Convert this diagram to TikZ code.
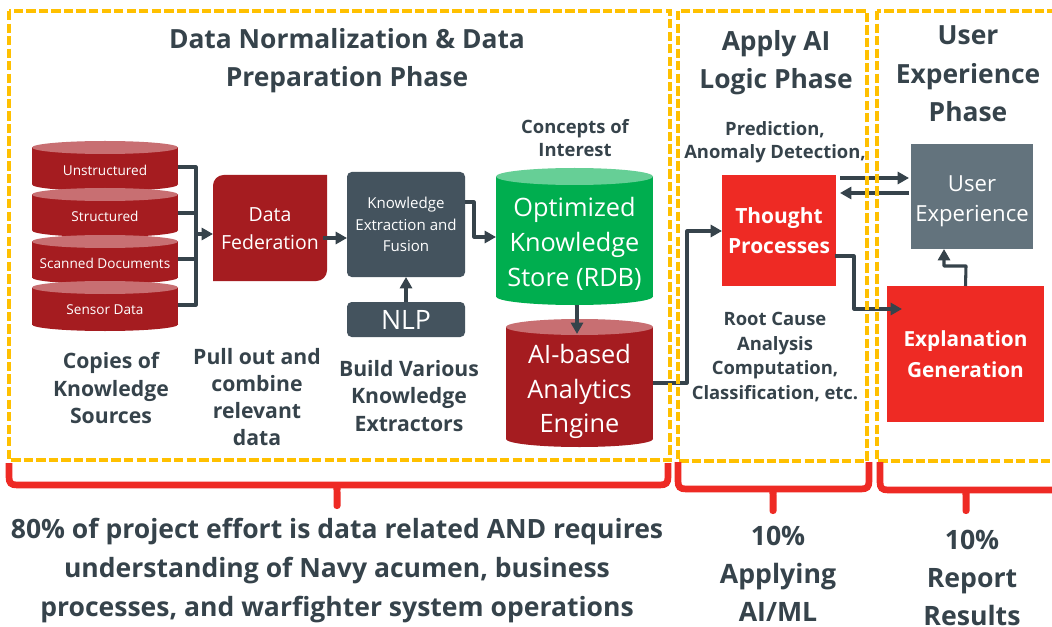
\documentclass[tikz,border=0pt]{standalone}
\usepackage{fontspec}
\setmainfont{Open Sans}
\usetikzlibrary{arrows.meta,calc}
\definecolor{inkc}{HTML}{36434B}
\definecolor{darkred}{HTML}{A51C20}
\definecolor{lightred}{HTML}{C86F72}
\definecolor{brightred}{HTML}{EE2A24}
\definecolor{greenc}{HTML}{00AE4F}
\definecolor{lightgreen}{HTML}{66CF96}
\definecolor{slatec}{HTML}{44535E}
\definecolor{greyc}{HTML}{63737D}
\definecolor{amberc}{HTML}{FFC000}
\newcommand{\fsz}[1]{\fontsize{#1}{#1}\selectfont}
\newcommand{\fszl}[2]{\fontsize{#1}{#2}\selectfont}
% name, x0, x1, ytop, ybot, ry, fill, light, text y; continues with [opts]{text};
\newcommand{\cylnode}[9]{%
  \pgfmathsetmacro{\cxx}{(#2+#3)/2}
  \pgfmathsetmacro{\rxx}{(#3-#2)/2*0.75}
  \pgfmathsetmacro{\ryy}{#6*0.75}
  \fill[#7] (#2,#4+#6) rectangle (#3,#5-#6);
  \fill[#7] (\cxx,#5-#6) ellipse [x radius=\rxx pt,y radius=\ryy pt];
  \fill[#8] (\cxx,#4+#6) ellipse [x radius=\rxx pt,y radius=\ryy pt];
  \node[cyltext,minimum width=\rxx*2 pt] (#1) at (\cxx,#9)
}
\newcommand{\redbrace}[6]{%
  \draw[bracestroke] (#1,#3) -- (#1,#4-8) .. controls (#1,#4-2) and (#1+2,#4) .. (#1+8,#4)
     -- (#2-8,#4) .. controls (#2-2,#4) and (#2,#4-2) .. (#2,#4-8) -- (#2,#3);
  \fill[brightred] (#5-7,#4) .. controls (#5-3,#4) and (#5-3.5,#4+4) .. (#5-3.5,#4+8)
     -- (#5-3.5,#6-3) .. controls (#5-3.5,#6+1) and (#5+3.5,#6+1) .. (#5+3.5,#6-3)
     -- (#5+3.5,#4+8) .. controls (#5+3.5,#4+4) and (#5+3,#4) .. (#5+7,#4) -- cycle;
}
\tikzset{
  x=0.75pt,y=-0.75pt,
  cyltext/.style={text=white,inner sep=0pt,align=center,outer sep=0pt},
  boxn/.style={text=white,inner sep=0pt,outer sep=0pt,align=center},
  title/.style={text=inkc,align=center,inner sep=0pt,font=\bfseries\fszl{19.8}{28.8}},
  lbl/.style={text=inkc,align=center,inner sep=0pt},
  conn/.style={draw=inkc,line width=2.3pt,line join=round},
  arrowc/.style={conn,-{Triangle[length=8.5pt,width=9pt]}},
  phasebox/.style={draw=amberc,line width=2.6pt,dash pattern=on 7pt off 2.4pt},
  bracestroke/.style={draw=brightred,line width=5pt},
}
\begin{document}
\begin{tikzpicture}
\clip (0,0) rectangle (1052,627);
\fill[white] (0,0) rectangle (1052,627);

% source cylinders
\cylnode{unstr}{32}{178}{141}{191}{6.5}{darkred}{lightred}{170}[font=\fsz{10.2}]{Unstructured};
\cylnode{struc}{32}{178}{188}{237}{6.5}{darkred}{lightred}{216}[font=\fsz{10.2}]{Structured};
\cylnode{scan}{32}{178}{235}{284}{6.5}{darkred}{lightred}{263}[font=\fsz{10.2}]{Scanned Documents};
\cylnode{sensor}{32}{178}{281}{331}{6.5}{darkred}{lightred}{309.5}[font=\fsz{10.2}]{Sensor Data};

% data federation
\fill[darkred] (213,281) [rounded corners=8pt] -- (213,175) [sharp corners] -- (327,175)
   [rounded corners=8pt] -- (327,281) [sharp corners] -- cycle;
\node[boxn,font=\fszl{14.6}{20.5},minimum width=85.5pt,minimum height=79.5pt] (fed) at (270,228.5) {Data\\Federation};

% knowledge extraction, NLP
\node[boxn,fill=slatec,rounded corners=3.5pt,font=\fszl{11.3}{16},minimum width=88.5pt,minimum height=78.75pt] (ke) at (406,224.5) {Knowledge\\Extraction and\\Fusion};
\node[boxn,fill=slatec,rounded corners=3.5pt,font=\fsz{20},minimum width=88.5pt,minimum height=26.25pt] (nlp) at (406,319.5) {NLP};

% stores
\cylnode{store}{496}{653}{168}{305}{8.5}{greenc}{lightgreen}{244}[font=\fszl{19}{26}]{Optimized\\Knowledge\\Store (RDB)};
\cylnode{engine}{506}{653}{319}{447}{8}{darkred}{lightred}{391.5}[font=\fszl{19}{26}]{AI-based\\Analytics\\Engine};

% thought, UX, explanation
\node[boxn,fill=brightred,font=\bfseries\fszl{15.7}{23},minimum width=85.5pt,minimum height=83.25pt] (thought) at (779,230.5) {Thought\\Processes};
\node[boxn,fill=greyc,font=\fszl{16.6}{23},minimum width=91.5pt,minimum height=78.75pt] (ux) at (972,196.5) {\rule{0pt}{19pt}User\\Experience};
\node[boxn,fill=brightred,font=\bfseries\fszl{15.6}{23.5},minimum width=117.75pt,minimum height=102pt] (expl) at (965.5,354) {Explanation\\Generation};

% connectors
\coordinate (bus) at (196,234);
\draw[conn] ($(unstr.east)+(0,-3)$) -| (bus);
\draw[conn] ($(struc.east)+(0,-3)$) -| (bus);
\draw[conn] ($(scan.east)+(0,-4)$) -| (bus);
\draw[conn] ($(sensor.east)+(0,-4.5)$) -| (bus);
\draw[arrowc] (bus) -- (bus -| fed.west);
\draw[arrowc] (fed.east |- 0,238) ++(-4,0) -- (ke.west |- 0,238);
\draw[arrowc] (nlp.north) -- (ke.south);
\coordinate (keout) at ($(ke.east)+(0,-22.5)$);
\coordinate (storein) at ($(store.west)+(0,-7)$);
\draw[arrowc] (keout) -- (474,202) -- (474,237) -- (storein);
\draw[arrowc] (store.center |- 0,305) ++(2.5,0) -- (577,334);
\coordinate (engout) at ($(engine.east)+(0,-8.5)$);
\coordinate (thin) at ($(thought.west)+(0,0.5)$);
\draw[arrowc] (engout) -- (687,383) -- (687,231) -- (thin);
\coordinate (thout1) at (840,178);
\coordinate (uxin) at ($(ux.west)+(-2,-18.5)$);
\draw[arrowc] (thout1) -- (uxin);
\coordinate (uxout) at ($(ux.west)+(-2,-3.5)$);
\coordinate (thin2) at (840,193);
\draw[arrowc] (uxout) -- (thin2);
\coordinate (thout2) at ($(thought.east)+(-1,25.5)$);
\coordinate (explin) at ($(expl.west)+(15,-45)$);
\draw[arrowc] (thout2) -- (854,256) -- (854,309) -- (explin);
\coordinate (explout) at (expl.north);
\draw[arrowc] (explout) -- (966,266) -- (944,266) -- (ux.south -| 944,0);

% phase boxes
\draw[phasebox] (9,11) rectangle (670,460);
\draw[phasebox] (678,11) rectangle (867,461);
\draw[phasebox] (877,11) rectangle (1062,461);

% titles
\node[title] (t1) at (347,60.5) {Data Normalization \& Data\\Preparation Phase};
\node[title] (t2) at (776,62.5) {Apply AI\\Logic Phase};
\node[title] (t3) at (968,74) {User\\Experience\\Phase};

% labels
\node[lbl,font=\bfseries\fszl{13.8}{17.5}] (l1) at (575,138) {Concepts of\\Interest};
\node[lbl,font=\bfseries\fszl{13.8}{17.5}] (l2) at (775,142) {Prediction,\\Anomaly Detection,};
\node[lbl,font=\bfseries\fszl{13.8}{18.3}] (l3) at (775,357) {Root Cause\\Analysis\\Computation,\\Classification, etc.};
\node[lbl,font=\bfseries\fszl{15.9}{20.3}] (l4) at (111,388) {Copies of\\Knowledge\\Sources};
\node[lbl,font=\bfseries\fszl{15.9}{20.3}] (l5) at (257,397) {Pull out and\\combine\\relevant\\data};
\node[lbl,font=\bfseries\fszl{15.9}{20.3}] (l6) at (409,396) {Build Various\\Knowledge\\Extractors};

% braces
\redbrace{9}{668}{463}{485}{337}{509}
\redbrace{678}{869}{462}{489}{773}{514}
\redbrace{880}{1066}{462}{490}{966}{514}

% bottom text
\node[lbl,font=\bfseries\fszl{19.9}{29}] (b1) at (337,570.5) {80\% of project effort is data related AND requires\\understanding of Navy acumen, business\\processes, and warfighter system operations};
\node[lbl,font=\bfseries\fszl{20}{28.5}] (b2) at (778,574) {10\%\\Applying\\AI/ML};
\node[lbl,font=\bfseries\fszl{20}{28.5}] (b3) at (972,578) {10\%\\Report\\Results};
\end{tikzpicture}
\end{document}
